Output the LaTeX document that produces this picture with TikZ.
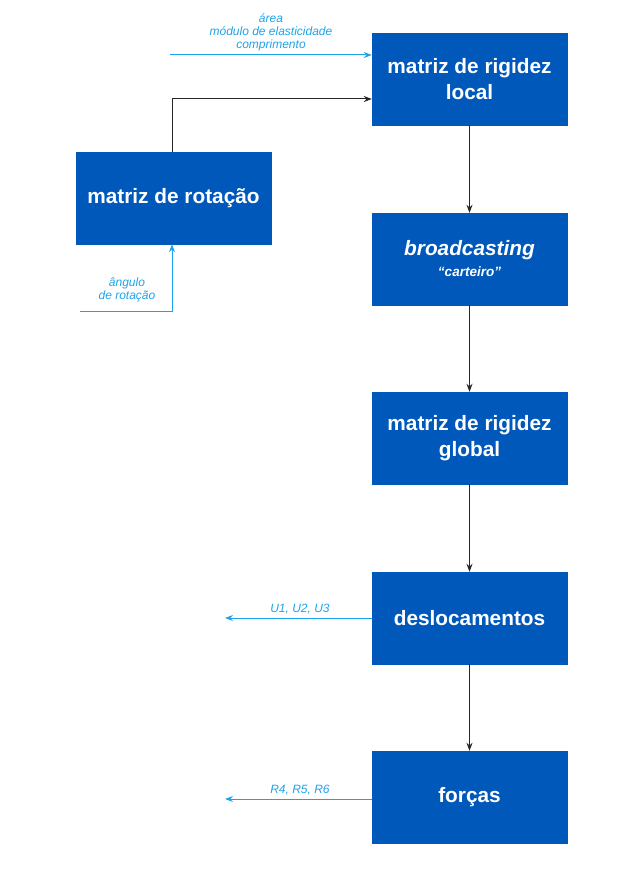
\documentclass[tikz,border=0pt]{standalone}
\usepackage{fontspec}
\setmainfont{Liberation Sans}
\usetikzlibrary{arrows.meta}
\definecolor{caixa}{HTML}{0058BB}
\definecolor{ciano}{HTML}{1EA3EA}
\tikzset{
	bloco/.style={rectangle,fill=caixa,draw=caixa,text=white,minimum width=195pt,minimum height=92pt,align=center,font=\fontsize{20.8}{26}\selectfont\bfseries},
	fluxo/.style={draw=black!85,line width=1pt,-{Stealth[length=8pt,width=6pt]}},
	dado/.style={draw=ciano,line width=1pt,-{Stealth[length=8pt,width=6pt]}},
	rotulo/.style={text=ciano,align=center,font=\fontsize{12}{13}\selectfont\itshape}
}
\begin{document}
\begin{tikzpicture}[x=1pt,y=-1pt]
				\useasboundingbox (0,0) rectangle (620,877);
				
				\node[bloco] (rigidezlocal) at (469.5,79) {matriz de rigidez\\local};
				\node[bloco] (broadcasting) at (469.5,259) {\textit{broadcasting}\\[-5pt]{\fontsize{13.5}{15}\selectfont\itshape ``carteiro''}};
				\node[bloco] (rigidezglobal) at (469.5,438) {matriz de rigidez\\global};
				\node[bloco] (deslocamentos) at (469.5,618) {deslocamentos};
				\node[bloco] (forcas) at (469.5,797) {forças};
				\node[bloco] (rotacao) at (173.5,198) {matriz de rotação};
				
				\coordinate (entrada) at (170,55);
				\coordinate (angulo) at (80,311);
				\coordinate (saidaU) at (225,618);
				\coordinate (saidaR) at (225,799);
				
				\path[fluxo] (rigidezlocal) -- (broadcasting);
				\path[fluxo] (broadcasting) -- (rigidezglobal);
				\path[fluxo] (rigidezglobal) -- (deslocamentos);
				\path[fluxo] (deslocamentos) -- (forcas);
				\path[fluxo] (rotacao.north -| 172,0) |- (rigidezlocal.west |- 0,99);
				
				\path[dado] (entrada) -- (rigidezlocal.west |- entrada);
				\path[dado] (angulo) -| (rotacao.south -| 172,0);
				\path[dado] (deslocamentos.west) -- (saidaU);
				\path[dado] (forcas.west |- saidaR) -- (saidaR);
				
				\node[rotulo] (dadoslocal) at (271,32) {área\\módulo de elasticidade\\comprimento};
				\node[rotulo] (dadosangulo) at (127,290) {ângulo\\de rotação};
				\node[rotulo] (rotuloU) at (300,609) {U1, U2, U3};
				\node[rotulo] (rotuloR) at (300,790) {R4, R5, R6};
\end{tikzpicture}
\end{document}
